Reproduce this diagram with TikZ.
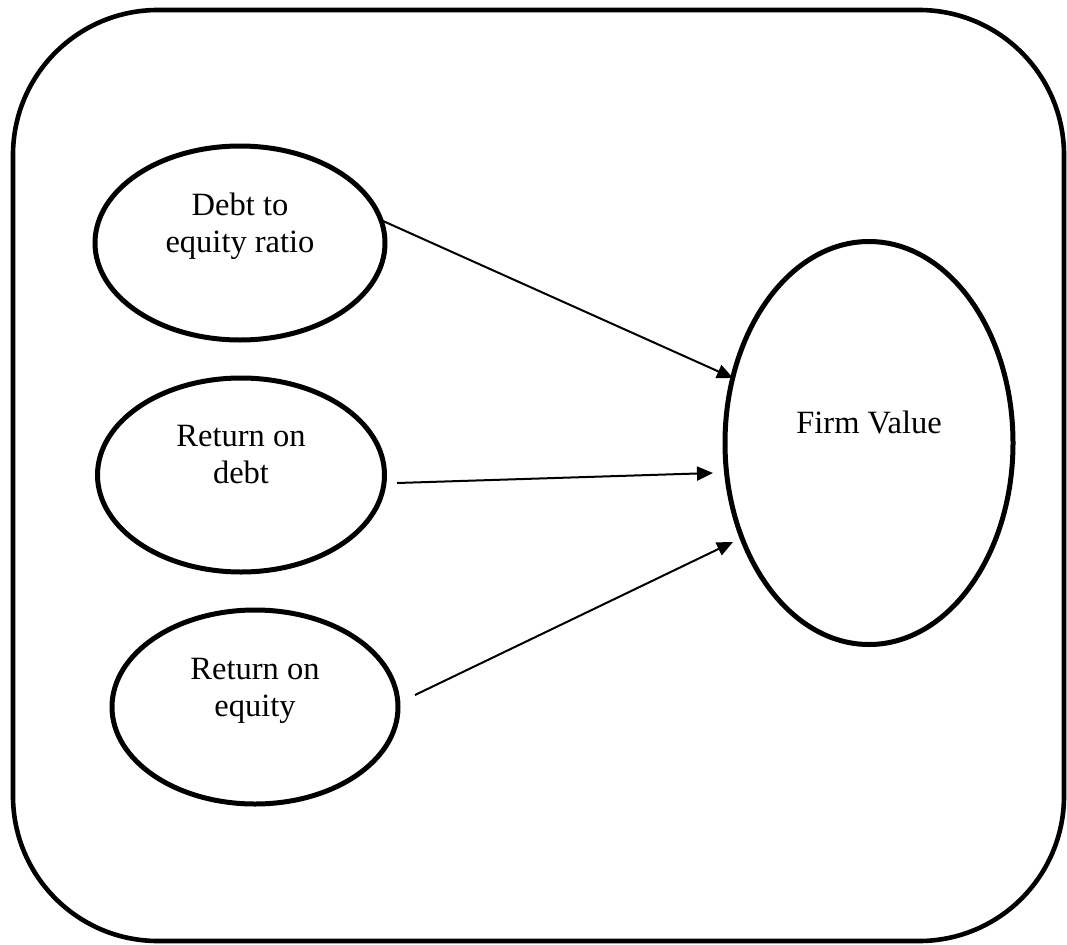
\documentclass[tikz,border=0pt]{standalone}
\usepackage{fontspec}
\setmainfont{Liberation Serif}
\usetikzlibrary{shapes.geometric,arrows.meta,calc}
\begin{document}
\begin{tikzpicture}[x=1pt,y=-1pt,
  oval/.style={draw, ellipse, line width=5pt, inner sep=0pt, outer sep=0pt},
  lbl/.style={align=center, inner sep=0pt, font=\fontsize{32.5}{37}\selectfont},
  link/.style={line width=2pt, -{Triangle[length=16pt,width=14pt]}},
  frame/.style={line width=4.6pt, rounded corners=145pt}]
\useasboundingbox (0,0) rectangle (1067,944);
\draw[frame] (13,10) rectangle (1064,941);
\node[oval, minimum width=290pt, minimum height=194pt] (e1) at (240,243) {};
\node[oval, minimum width=287pt, minimum height=194pt] (e2) at (241,475) {};
\node[oval, minimum width=286pt, minimum height=194pt] (e3) at (255,707) {};
\node[oval, minimum width=288pt, minimum height=403pt] (fv) at (869,443) {};
\node[lbl] (t1) at ($(e1.center)+(0,-16.5)$) {Debt to\\equity ratio};
\node[lbl] (t2) at ($(e2.center)+(0,-20)$) {Return on\\debt};
\node[lbl] (t3) at ($(e3.center)+(0,-16.5)$) {Return on\\equity};
\node[lbl] (t4) at ($(fv.center)+(0,-20.5)$) {Firm Value};
\draw[link] ($(e1.center)+(143,-22)$) -- ($(fv.center)+(-136,-65)$);
\draw[link] ($(e2.center)+(156,8)$) -- ($(fv.center)+(-156,30)$);
\draw[link] ($(e3.center)+(160,-12)$) -- ($(fv.center)+(-136,99)$);
\end{tikzpicture}
\end{document}
